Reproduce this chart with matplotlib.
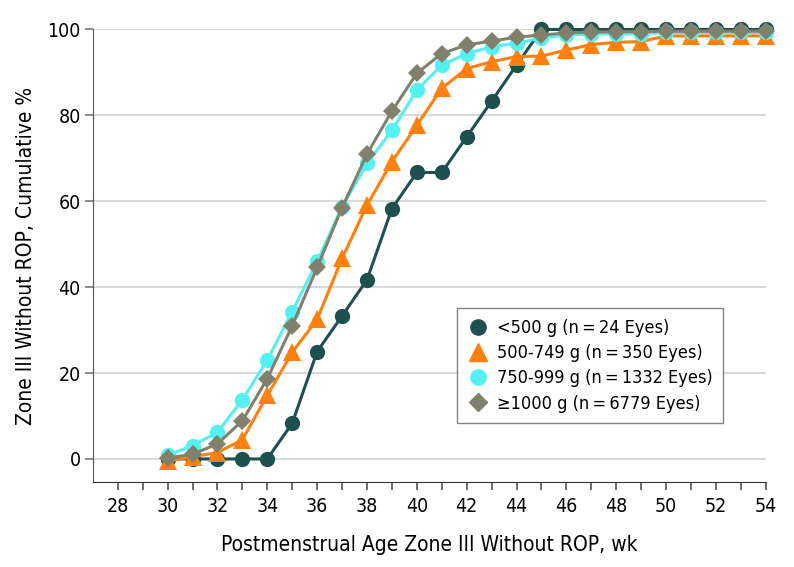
import matplotlib
matplotlib.use("Agg")
import matplotlib.pyplot as plt
from matplotlib.lines import Line2D

plt.rcParams['font.family'] = ['DejaVu Sans Condensed', 'DejaVu Sans']
plt.rcParams['font.stretch'] = 'condensed'

WEEKS = list(range(30, 55))

# cumulative % per birth-weight group
LT500 = [0, 0, 0, 0, 0, 8.3, 25, 33.3, 41.7, 58.3, 66.7, 66.7, 75, 83.3, 91.7,
         100, 100, 100, 100, 100, 100, 100, 100, 100, 100]
G500_749 = [-0.5, 0.5, 1.5, 4.5, 14.8, 24.8, 32.5, 46.7, 59.1, 69.2, 77.7, 86.3, 90.9,
            92.5, 93.7, 93.8, 95.2, 96.5, 97, 97.2, 98.5, 98.5, 98.5, 98.5, 98.5]
G750_999 = [0.9, 3.1, 6.2, 13.8, 23, 34.3, 46, 58.7, 68.8, 76.5, 85.9, 91.7, 94.4,
            96, 96.8, 98, 98.7, 98.9, 99, 99, 99.3, 99.3, 99.3, 99.3, 99.3]
G1000 = [0.2, 1.1, 3.5, 8.9, 18.7, 31, 44.6, 58.5, 71, 81, 89.8, 94.4, 96.4,
         97.3, 98.2, 98.7, 99.2, 99.4, 99.5, 99.5, 99.6, 99.6, 99.6, 99.6, 99.6]

LABELS = ["<500 g (n\u2009=\u200924 Eyes)", "500-749 g (n\u2009=\u2009350 Eyes)",
          "750-999 g (n\u2009=\u20091332 Eyes)", "\u22651000 g (n\u2009=\u20096779 Eyes)"]
COLORS = ["#1f5050", "#ff7f0f", "#55f0f0", "#80806c"]
MARKERS = ["o", "^", "o", "D"]
SIZES = [11, 12.5, 11, 9]


def main():
    fig = plt.figure(figsize=(7.94, 5.67), dpi=100)
    ax = fig.add_axes([0.1175, 0.1504, 0.847, 0.7976])

    series = [LT500, G500_749, G750_999, G1000]
    zorders = [3, 4, 5, 6]
    for vals, col, mk, ms, zo in zip(series, COLORS, MARKERS, SIZES, zorders):
        ax.plot(WEEKS, vals, color=col, marker=mk, markersize=ms, linewidth=2.2,
                markeredgewidth=0, zorder=zo, clip_on=False)

    ax.set_xlim(27.02, 54)
    ax.set_ylim(-5.3, 100)
    ax.set_xticks(range(28, 55, 2))
    ax.set_xticks(range(29, 55, 2), minor=True)
    ax.set_yticks(range(0, 101, 20))
    ax.yaxis.grid(True, color="#d9d9d9", linewidth=1.5, zorder=0)
    ax.set_axisbelow(True)

    for side in ["top", "right"]:
        ax.spines[side].set_visible(False)
    ax.spines["left"].set_color("#555555")
    ax.spines["bottom"].set_color("#333333")

    ax.tick_params(axis="x", which="both", direction="out", length=6, width=1.2,
                   color="#555555", labelsize=14, pad=5)
    ax.tick_params(axis="y", direction="out", length=6, width=1.2,
                   color="#777777", labelsize=14, pad=3)

    ax.set_xlabel("Postmenstrual Age Zone III Without ROP, wk", fontsize=15, labelpad=14)
    ax.set_ylabel("Zone III Without ROP, Cumulative %", fontsize=15, labelpad=8)

    handles = [Line2D([], [], color=c, marker=m, linestyle="none", markersize=s)
               for c, m, s in zip(COLORS, MARKERS, SIZES)]
    leg = ax.legend(handles, LABELS, loc="upper left", bbox_to_anchor=(0.5405, 0.384),
                    borderaxespad=0, frameon=True, fancybox=False, fontsize=13,
                    handletextpad=0.4, labelspacing=0.4, borderpad=0.6, handlelength=1.2)
    leg.get_frame().set_edgecolor("#666666")
    leg.get_frame().set_linewidth(1.0)

    fig.savefig("out.png", dpi=100)


if __name__ == '__main__':
    main()
